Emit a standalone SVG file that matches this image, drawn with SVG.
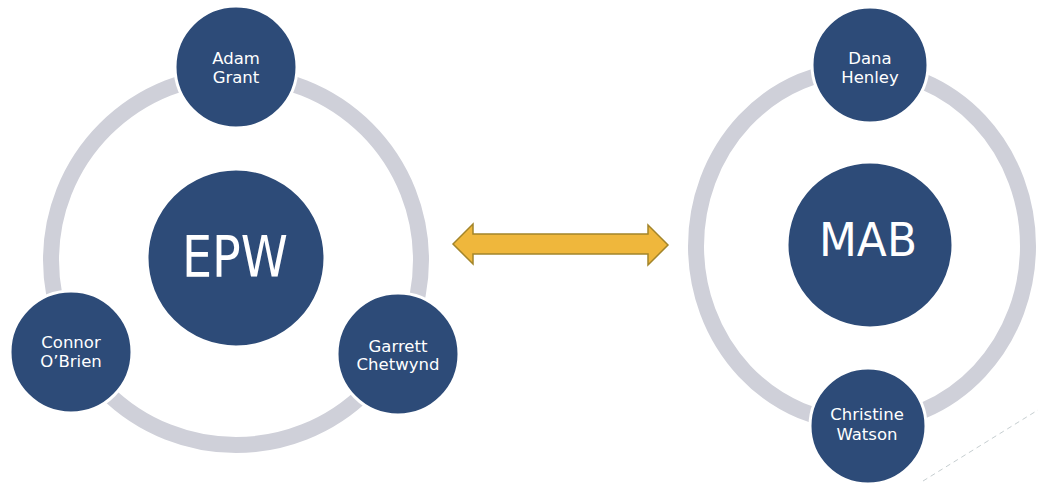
<svg xmlns="http://www.w3.org/2000/svg" width="1039" height="483" viewBox="0 0 1039 483">
<style>
.ring{fill:none;stroke:#cfd0d9;stroke-width:16}
.node{fill:#2d4b78;stroke:#ffffff;stroke-width:3}
.lbl{fill:#ffffff;font-family:"DejaVu Sans",Verdana,sans-serif;font-size:16.5px;text-anchor:middle}
.big{fill:#ffffff;font-family:"DejaVu Sans",Verdana,sans-serif;text-anchor:middle}
</style>
<rect width="1039" height="483" fill="#ffffff"/>
<g id="connectors">
<circle class="ring" cx="236" cy="260" r="185"/>
<ellipse class="ring" cx="862" cy="246" rx="166" ry="177"/>
<path d="M453,244 L473,224 L473,234 L648,234 L648,225 L668,245 L648,265 L648,254 L473,254 L473,264 Z" fill="#efb73c" stroke="#a3852a" stroke-width="1.5" stroke-linejoin="miter"/>
<line x1="923" y1="481" x2="1038" y2="410" stroke="#b9c3c6" stroke-width="1" stroke-dasharray="5,4" opacity="0.8"/>
</g>
<g id="epw">
<circle class="node" cx="236" cy="258" r="89"/>
<text class="big" x="235" y="277" font-size="57" textLength="106" lengthAdjust="spacingAndGlyphs">EPW</text>
</g>
<g id="adam-grant">
<circle class="node" cx="236" cy="67" r="61"/>
<text class="lbl" x="236" y="64">Adam</text>
<text class="lbl" x="236" y="83">Grant</text>
</g>
<g id="connor-obrien">
<circle class="node" cx="71" cy="352" r="61"/>
<text class="lbl" x="71" y="348">Connor</text>
<text class="lbl" x="71" y="367">O’Brien</text>
</g>
<g id="garrett-chetwynd">
<circle class="node" cx="398" cy="354" r="61"/>
<text class="lbl" x="398" y="352">Garrett</text>
<text class="lbl" x="398" y="370">Chetwynd</text>
</g>
<g id="mab">
<circle class="node" cx="870" cy="245" r="83"/>
<text class="big" x="868" y="256" font-size="47" textLength="98" lengthAdjust="spacingAndGlyphs">MAB</text>
</g>
<g id="dana-henley">
<circle class="node" cx="870" cy="65" r="58"/>
<text class="lbl" x="870" y="64">Dana</text>
<text class="lbl" x="870" y="83">Henley</text>
</g>
<g id="christine-watson">
<circle class="node" cx="868" cy="426" r="58"/>
<text class="lbl" x="867" y="420">Christine</text>
<text class="lbl" x="867" y="440">Watson</text>
</g>
</svg>
